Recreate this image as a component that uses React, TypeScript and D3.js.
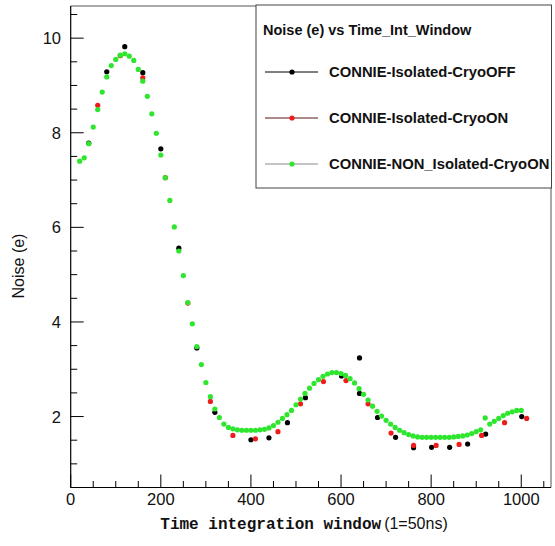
import React from "react";
import * as d3 from "d3";

// ---- data ----
const greenX = [20,30,40,50,60,70,80,90,100,110,120,130,140,150,160,170,180,190,200,210,220,230,240,250,260,270,280,290,300,310,320,330,340,350,360,370,380,390,400,410,420,430,440,450,460,470,480,490,500,510,520,530,540,550,560,570,580,590,600,610,620,630,640,650,660,670,680,690,700,710,720,730,740,750,760,770,780,790,800,810,820,830,840,850,860,870,880,890,900,910,920,930,940,950,960,970,980,990,1000];
const greenY = [7.40,7.47,7.77,8.12,8.49,8.86,9.18,9.42,9.55,9.64,9.67,9.62,9.53,9.34,9.09,8.77,8.40,7.99,7.53,7.05,6.57,6.01,5.50,4.98,4.41,3.96,3.48,3.10,2.72,2.42,2.16,1.98,1.84,1.77,1.74,1.72,1.71,1.71,1.71,1.71,1.72,1.73,1.76,1.81,1.88,1.96,2.04,2.13,2.25,2.37,2.49,2.60,2.70,2.78,2.85,2.90,2.93,2.93,2.91,2.87,2.80,2.71,2.59,2.47,2.35,2.22,2.11,2.01,1.92,1.84,1.77,1.71,1.66,1.62,1.59,1.57,1.56,1.56,1.56,1.56,1.56,1.56,1.56,1.57,1.58,1.59,1.61,1.64,1.68,1.72,1.97,1.84,1.90,1.96,2.02,2.07,2.10,2.13,2.13];

const blackX = [40,80,120,160,200,240,280,320,400,440,481,521,601,641,641,681,721,761,801,841,881,921,1001];
const blackY = [7.78,9.29,9.82,9.27,7.66,5.56,3.45,2.09,1.51,1.55,1.87,2.40,2.86,3.24,2.49,1.98,1.56,1.34,1.35,1.35,1.42,1.63,2.00];

const redX = [60,110,160,210,260,310,360,410,460,510,561,611,660,711,761,811,862,912,963,1012];
const redY = [8.58,9.63,9.16,7.05,4.40,2.32,1.60,1.53,1.68,2.27,2.74,2.76,2.27,1.65,1.39,1.39,1.41,1.60,1.87,1.96];

const xMajorTicks = [0,200,400,600,800,1000];
const yMajorTicks = [2,4,6,8,10];

const legendTitle = "Noise (e) vs Time_Int_Window";
const seriesNames = ["CONNIE-Isolated-CryoOFF","CONNIE-Isolated-CryoON","CONNIE-NON_Isolated-CryoON"];

export default function App() {
  const W = 555, H = 546;
  const left = 70.7, right = 551, top = 6, bottom = 487.5;
  const x = d3.scaleLinear().domain([0, 1066]).range([left, right]);
  const y = d3.scaleLinear().domain([0.5, 10.68]).range([bottom, top]);

  const xMinor = d3.range(0, 1066, 50).filter(v => !xMajorTicks.includes(v));
  const yMinor = d3.range(0.5, 10.68, 0.5).filter(v => !yMajorTicks.includes(v));

  const series = [
    { xs: blackX, ys: blackY, fill: "#000000", line: "#000000", name: seriesNames[0] },
    { xs: redX, ys: redY, fill: "#ee1c1c", line: "#5a1414", name: seriesNames[1] },
    { xs: greenX, ys: greenY, fill: "#2ee62e", line: "#8a8a8a", name: seriesNames[2] },
  ];

  const r = 2.6;
  const font = "'Liberation Sans', Arial, Helvetica, sans-serif";

  return (
    <svg width={W} height={H} style={{ position: "absolute", left: 0, top: 0, background: "#fff" }}>
      <rect x={0} y={0} width={W} height={H} fill="#fff" />
      {/* frame */}
      <line x1={left} x2={right} y1={top} y2={top} stroke="#555" strokeWidth={1} />
      <line x1={right} x2={right} y1={top} y2={bottom} stroke="#555" strokeWidth={1} />
      <line x1={left} x2={left} y1={top} y2={bottom} stroke="#000" strokeWidth={1.2} />
      <line x1={left} x2={right} y1={bottom} y2={bottom} stroke="#000" strokeWidth={1.2} />

      {/* x ticks */}
      {xMajorTicks.map(t => (
        <g key={"xm" + t}>
          <line x1={x(t)} x2={x(t)} y1={bottom} y2={bottom - 13} stroke="#000" />
          <text x={x(t)} y={505} fontSize={16.5} fontFamily={font} textAnchor="middle" fill="#111">{t}</text>
        </g>
      ))}
      {xMinor.map(t => (
        <line key={"xn" + t} x1={x(t)} x2={x(t)} y1={bottom} y2={bottom - 6.5} stroke="#000" />
      ))}
      {/* y ticks */}
      {yMajorTicks.map(t => (
        <g key={"ym" + t}>
          <line x1={left} x2={left + 13} y1={y(t)} y2={y(t)} stroke="#000" />
          <text x={61} y={y(t) + 6} fontSize={16.5} fontFamily={font} textAnchor="end" fill="#111">{t}</text>
        </g>
      ))}
      {yMinor.map(t => (
        <line key={"yn" + t} x1={left} x2={left + 6.5} y1={y(t)} y2={y(t)} stroke="#000" />
      ))}

      {/* axis titles */}
      <text x={304} y={529} textAnchor="middle" fill="#111">
        <tspan fontFamily="'Liberation Mono', 'DejaVu Sans Mono', monospace" fontWeight="bold" fontSize={16}>Time integration window</tspan>
        <tspan fontFamily={font} fontSize={16} dx={3}>(1=50ns)</tspan>
      </text>
      <text transform={`translate(24,266) rotate(-90)`} textAnchor="middle" fontFamily={font} fontSize={16} fill="#111">Noise (e)</text>

      {/* data */}
      {series.map((s, si) => (
        <g key={"s" + si}>
          {s.xs.map((xv, i) => (
            <circle key={i} cx={x(xv)} cy={y(s.ys[i])} r={r} fill={s.fill} />
          ))}
        </g>
      ))}

      {/* legend */}
      <rect x={256} y={5} width={295.5} height={183} fill="#fff" stroke="#444" strokeWidth={1} />
      <text x={263} y={35} fontFamily={font} fontWeight="bold" fontSize={14.5} fill="#111">{legendTitle}</text>
      {series.map((s, i) => {
        const ly = 72 + i * 46;
        return (
          <g key={"lg" + i}>
            <line x1={265} x2={318} y1={ly} y2={ly} stroke={s.line} strokeWidth={1} />
            <circle cx={292} cy={ly} r={r} fill={s.fill} />
            <text x={329} y={ly + 5} fontFamily={font} fontWeight="bold" fontSize={14.8} fill="#111">{s.name}</text>
          </g>
        );
      })}
    </svg>
  );
}
